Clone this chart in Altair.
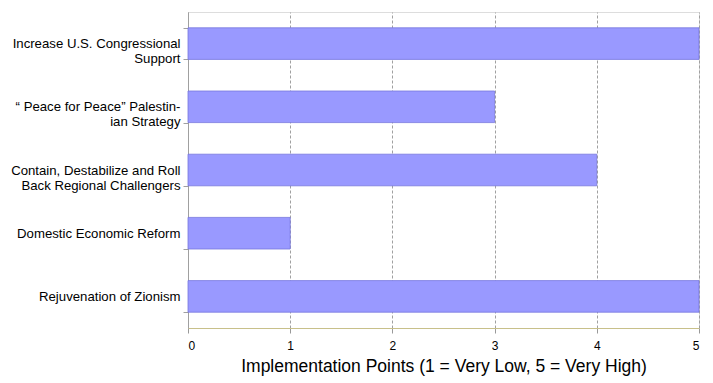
import altair as alt
import pandas as pd

categories = [
    "Increase U.S. Congressional Support",
    "\u201c Peace for Peace\u201d Palestinian Strategy",
    "Contain, Destabilize and Roll Back Regional Challengers",
    "Domestic Economic Reform",
    "Rejuvenation of Zionism",
]
label_lines = [
    ["Increase U.S. Congressional", "Support"],
    ["\u201c Peace for Peace\u201d Palestin-", "ian Strategy"],
    ["Contain, Destabilize and Roll", "Back Regional Challengers"],
    ["Domestic Economic Reform"],
    ["Rejuvenation of Zionism"],
]
values = [5, 3, 4, 1, 5]
x_ticks = [0, 1, 2, 3, 4, 5]

df = pd.DataFrame({"category": categories, "value": values})

mapping = "{" + ",".join(
    '"%s": [%s]' % (c.replace('"', '\\"'), ",".join('"%s"' % l.replace('"', '\\"') for l in lines))
    for c, lines in zip(categories, label_lines)
) + "}"
label_expr = mapping + "[datum.value]"

font = "Liberation Sans"

bars = alt.Chart(df).mark_bar(
    color="#9999ff", stroke="#7777dd", strokeWidth=0.8
).encode(
    x=alt.X(
        "value:Q",
        scale=alt.Scale(domain=[0, 5], nice=False),
        axis=alt.Axis(
            values=x_ticks,
            title="Implementation Points (1 = Very Low, 5 = Very High)",
            titleFont=font,
            titleFontSize=17.5,
            titleFontWeight="normal",
            titleColor="#000000",
            titlePadding=6,
            labelFont=font,
            labelFontSize=12,
            labelColor="#000000",
            labelPadding=7,
            domainColor="#c8c08a",
            domainWidth=1,
            tickColor="#999999",
            tickSize=5,
            grid=True,
            gridColor="#a0a0a0",
            gridDash=[3, 2],
            gridWidth=1,
        ),
    ),
    y=alt.Y(
        "category:N",
        sort=categories,
        scale=alt.Scale(paddingInner=0.5, paddingOuter=0.25),
        axis=alt.Axis(
            title=None,
            labelExpr=label_expr,
            labelFont=font,
            labelFontSize=13.2,
            labelColor="#000000",
            labelAlign="right",
            labelPadding=3,
            labelLineHeight=15,
            labelLimit=300,
            domainColor="#a0a0a0",
            tickColor="#a0a0a0",
            tickSize=5,
            tickBand="extent",
            grid=False,
        ),
    ),
)

chart = bars.properties(
    width=511,
    height=316,
    autosize="none",
    padding={"left": 180, "top": 4, "right": 6, "bottom": 55},
).configure_view(stroke=None).configure(background="#ffffff")

chart.save("out.html", embed_options={"renderer": "svg", "actions": False})
